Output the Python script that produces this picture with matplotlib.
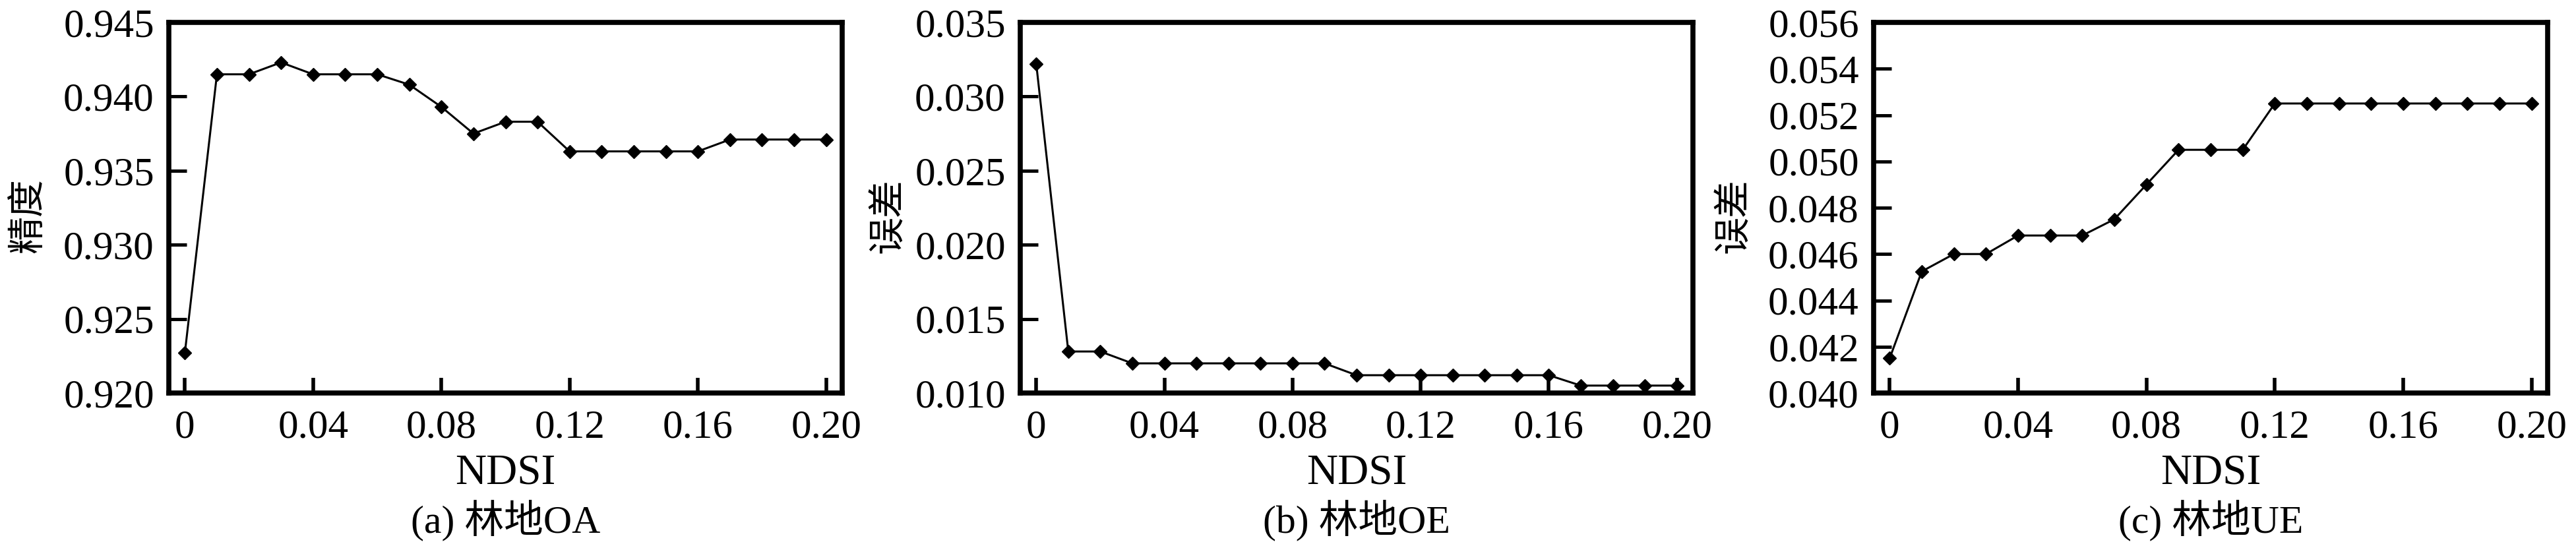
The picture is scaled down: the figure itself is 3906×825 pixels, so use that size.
import matplotlib
matplotlib.use("Agg")
import matplotlib.pyplot as plt
from matplotlib.ticker import FixedLocator, FixedFormatter

plt.rcParams['font.family'] = ['Liberation Serif', 'Noto Sans CJK SC', 'DejaVu Sans']

ndsi = [0.00, 0.01, 0.02, 0.03, 0.04, 0.05, 0.06, 0.07, 0.08, 0.09, 0.10,
        0.11, 0.12, 0.13, 0.14, 0.15, 0.16, 0.17, 0.18, 0.19, 0.20]

oa = [0.9227, 0.9415, 0.9415, 0.9423, 0.9415, 0.9415, 0.9415, 0.9408, 0.9393,
      0.9375, 0.9383, 0.9383, 0.9363, 0.9363, 0.9363, 0.9363, 0.9363, 0.9371,
      0.9371, 0.9371, 0.9371]
oe = [0.0322, 0.0128, 0.0128, 0.0120, 0.0120, 0.0120, 0.0120, 0.0120, 0.0120,
      0.0120, 0.0112, 0.0112, 0.0112, 0.0112, 0.0112, 0.0112, 0.0112, 0.0105,
      0.0105, 0.0105, 0.0105]
ue = [0.0415, 0.04525, 0.0460, 0.0460, 0.0468, 0.0468, 0.0468, 0.0475, 0.0490,
      0.0505, 0.0505, 0.0505, 0.0525, 0.0525, 0.0525, 0.0525, 0.0525, 0.0525,
      0.0525, 0.0525, 0.0525]

x_ticks = [0, 0.04, 0.08, 0.12, 0.16, 0.20]
x_ticklabels = ['0', '0.04', '0.08', '0.12', '0.16', '0.20']

oa_ticks = [0.920, 0.925, 0.930, 0.935, 0.940, 0.945]
oe_ticks = [0.010, 0.015, 0.020, 0.025, 0.030, 0.035]
ue_ticks = [0.040, 0.042, 0.044, 0.046, 0.048, 0.050, 0.052, 0.054, 0.056]

xlabel = 'NDSI'
ylabels = ['精度', '误差', '误差']
captions = ['(a) 林地OA', '(b) 林地OE', '(c) 林地UE']

W, H = 3906, 825
fig = plt.figure(figsize=(W / 100, H / 100), dpi=100)

# axes boxes in pixels (spine centres)
boxes = [(256, 1277), (1547, 2567), (2841, 3863)]
top_px, bot_px = 34, 596
ylabel_x = [43, 1347, 2629]
ylabel_y = 327
ndsi_base = 733
cap_base = 807

series = [oa, oe, ue]
yticks_all = [oa_ticks, oe_ticks, ue_ticks]

FS_TICK = 44
for i in range(3):
    l, r = boxes[i]
    ax = fig.add_axes([l / W, 1 - bot_px / H, (r - l) / W, (bot_px - top_px) / H])
    ax.plot(ndsi, series[i], color='black', lw=2.2, marker='D', markersize=10.5,
            markerfacecolor='black', markeredgecolor='black', clip_on=False, zorder=3)
    ax.set_xlim(-0.005, 0.205)
    yt = yticks_all[i]
    ax.set_ylim(yt[0], yt[-1])
    ax.xaxis.set_major_locator(FixedLocator(x_ticks))
    ax.xaxis.set_major_formatter(FixedFormatter(x_ticklabels))
    ax.yaxis.set_major_locator(FixedLocator(yt))
    ax.yaxis.set_major_formatter(FixedFormatter(['%.3f' % v for v in yt]))
    for s in ax.spines.values():
        s.set_linewidth(5.5)
    ax.tick_params(axis='x', direction='in', length=16.5, width=4, pad=18,
                   labelsize=FS_TICK, top=False)
    ax.tick_params(axis='y', direction='in', length=19.5, width=3.6, pad=16,
                   labelsize=FS_TICK, right=False)
    fig.text(ylabel_x[i] / W, 1 - ylabel_y / H, ylabels[i], rotation=90,
             ha='center', va='center', fontsize=41,
             family=['Noto Sans CJK SC', 'DejaVu Sans'])
    cx = (l + r) / 2 / W
    fig.text(cx, 1 - ndsi_base / H, xlabel, ha='center', va='baseline', fontsize=47)
    fig.text(cx, 1 - cap_base / H, captions[i], ha='center', va='baseline', fontsize=43,
             family=['Liberation Serif', 'Noto Sans CJK SC'])

fig.savefig('out.png', dpi=100)
